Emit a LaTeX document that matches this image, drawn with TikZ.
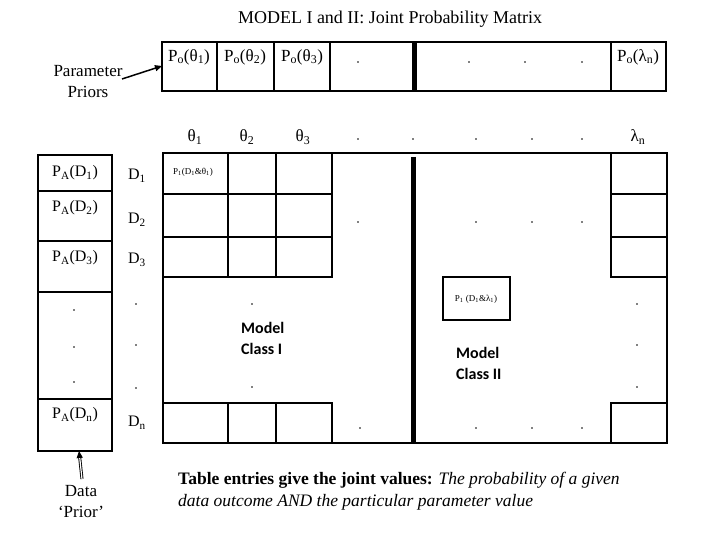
\documentclass[tikz,border=0pt]{standalone}
\usepackage{fontspec}
\setmainfont{Liberation Serif}
\newfontfamily\calib{Carlito}
\usetikzlibrary{arrows.meta}
\newcommand\lsub[1]{\textsubscript{#1}}
\begin{document}
\begin{tikzpicture}[x=1bp,y=-1bp,
  gridline/.style={line width=2bp, line cap=rect},
  thickbar/.style={line width=5bp},
  lbl/.style={font=\fontsize{16bp}{19bp}\selectfont, inner sep=0pt},
  hlbl/.style={font=\fontsize{17bp}{19bp}\selectfont, inner sep=0pt},
  tiny/.style={font=\fontsize{9bp}{11bp}\selectfont, inner sep=0pt},
  model/.style={font=\calib\bfseries\fontsize{16bp}{21bp}\selectfont, inner sep=0pt, align=left, anchor=north west},
  side/.style={font=\fontsize{17bp}{21bp}\selectfont, inner sep=0pt, align=center},
  arr/.style={-{Triangle[length=7bp,width=6bp]}, line width=1.5bp},
  dotm/.style={fill=black},
]
\useasboundingbox (0,0) rectangle (720,540);

% title
\node[font=\fontsize{18bp}{21bp}\selectfont, inner sep=0pt] (title) at (390,19) {MODEL I and II: Joint Probability Matrix};

% ---- prior row
\draw[gridline] (162,42) rectangle (666,91);
\foreach \x in {217,274,330,611} \draw[gridline] (\x,42) -- (\x,91);
\draw[thickbar] (414,42) -- (414,91);
\node[hlbl] (po1) at (189,57) {P\lsub{o}(θ\lsub{1})};
\node[hlbl] (po2) at (245,57) {P\lsub{o}(θ\lsub{2})};
\node[hlbl] (po3) at (302,57) {P\lsub{o}(θ\lsub{3})};
\node[hlbl] (pon) at (638,57) {P\lsub{o}(λ\lsub{n})};
\foreach \x in {358,469,525,582} \fill[dotm] (\x,62) circle (0.8);
\coordinate (priorbox) at (162,66);

% parameter priors
\node[side] (pp) at (88,82) {Parameter\\Priors};
\draw[arr] (122,79) -- (priorbox);

% ---- theta labels
\node[hlbl] (t1) at (195,137) {θ\lsub{1}};
\node[hlbl] (t2) at (247,137) {θ\lsub{2}};
\node[hlbl] (t3) at (303,137) {θ\lsub{3}};
\node[hlbl] (tn) at (638,137) {λ\lsub{n}};
\foreach \x in {358,413,476,532,582} \fill[dotm] (\x,139) circle (0.8);

% ---- main grid
\draw[gridline] (163,153) rectangle (667,443);
\foreach \x in {228,276,332} {
  \draw[gridline] (\x,153) -- (\x,277);
  \draw[gridline] (\x,403) -- (\x,443);
}
\foreach \y in {194,237,277} {
  \draw[gridline] (163,\y) -- (332,\y);
  \draw[gridline] (611,\y) -- (667,\y);
}
\draw[gridline] (163,403) -- (332,403);
\draw[gridline] (611,153) -- (611,277);
\draw[gridline] (611,403) -- (667,403);
\draw[gridline] (611,403) -- (611,443);
\draw[thickbar] (413,157) -- (413,443);

\node[tiny] (p11) at (193,172) {P\lsub{1}(D\lsub{1}\&θ\lsub{1})};
\draw[gridline] (443,277) rectangle (510,320);
\node[tiny] (pil) at (476,299) {P\lsub{1} (D\lsub{1}\&λ\lsub{1})};

\foreach \x in {358,476,532,582} {
  \fill[dotm] (\x,222) circle (0.8);
}
\foreach \x in {360,476,532,582} {
  \fill[dotm] (\x,428) circle (0.8);
}
\foreach \y in {304,387} \fill[dotm] (252,\y) circle (0.8);
\foreach \y in {304,345,387} \fill[dotm] (637,\y) circle (0.8);

\node[model] (m1) at (241,322) {Model\\Class I};
\node[model] (m2) at (456,347) {Model\\Class II};

% ---- data prior column
\draw[gridline] (38,155) rectangle (112,451);
\foreach \y in {191,241,292,399} \draw[gridline] (38,\y) -- (112,\y);
\node[lbl] (pa1) at (75,173) {P\lsub{A}(D\lsub{1})};
\node[lbl] (pa2) at (75,208) {P\lsub{A}(D\lsub{2})};
\node[lbl] (pa3) at (75,258) {P\lsub{A}(D\lsub{3})};
\node[lbl] (pan) at (75,415) {P\lsub{A}(D\lsub{n})};
\foreach \y in {310,347,382} \fill[dotm] (74,\y) circle (0.8);
\coordinate (pabox) at (79,451);

% D labels
\node[lbl] (d1) at (137,176) {D\lsub{1}};
\node[lbl] (d2) at (137,220) {D\lsub{2}};
\node[lbl] (d3) at (137,260) {D\lsub{3}};
\node[lbl] (dn) at (137,423) {D\lsub{n}};
\foreach \y in {304,345,388} \fill[dotm] (136,\y) circle (0.8);

% data prior
\node[side] (dp) at (81,502) {Data\\‘Prior’};
\draw[arr, double, line width=0.9bp, double distance=1.2bp] (82,479) -- (pabox);

% caption
\node[font=\fontsize{17.5bp}{22bp}\selectfont, inner sep=0pt, align=left, anchor=north west] (cap) at (178,472)
  {\textbf{Table entries give the joint values:} \textit{The probability of a given}\\
   \textit{data outcome AND the particular parameter value}};
\end{tikzpicture}
\end{document}
